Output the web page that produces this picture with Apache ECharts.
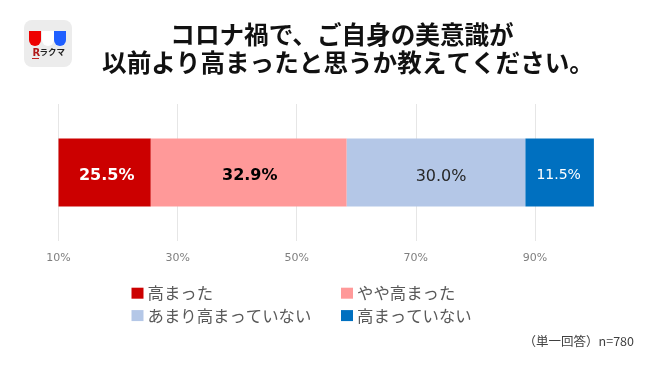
<!DOCTYPE html>
<html>
<head>
<meta charset="utf-8">
<style>
  html, body { margin: 0; padding: 0; background: #fff; }
  #chart { width: 650px; height: 366px; }
</style>
<script src="https://cdn.jsdelivr.net/npm/echarts@6/dist/echarts.min.js"></script>
</head>
<body>
<div id="chart"></div>
<script>
const titleLines = ['コロナ禍で、ご自身の美意識が', '以前より高まったと思うか教えてください。'];
const category = ['回答'];
const names = ['高まった', 'やや高まった', 'あまり高まっていない', '高まっていない'];
const values = [25.5, 32.9, 30.0, 11.5];
const tickValues = [10, 30, 50, 70, 90];
const note = '（単一回答）n=780';

const colors = ['#cc0000', '#ff9999', '#b4c7e7', '#0070c0'];
const labelColors = ['#ffffff', '#000000', '#262626', '#ffffff'];
const labelWeights = ['bold', 'bold', 'normal', 'normal'];
const labelSizes = [16, 16, 16, 14];
const labelOffsets = [[2, 3], [1, 3], [5, 4], [-1, 3]];

const jp = '"Noto Sans CJK JP", sans-serif';
const latin = '"DejaVu Sans", sans-serif';

const chart = echarts.init(document.getElementById('chart'));

// 凡例は2列なので2つに分ける
const legendBase = {
  orient: 'vertical',
  top: 280,
  itemWidth: 12,
  itemHeight: 11,
  itemGap: 6,
  icon: 'rect',
  textStyle: { fontFamily: jp, fontSize: 16.4, color: '#595959', padding: [0, 0, 4, -1] },
};

const titleStyle = { fontFamily: jp, fontSize: 24.6, fontWeight: 'bold', color: '#111111' };

chart.setOption({
  animation: false,
  title: [
    { text: titleLines[0], left: 337, top: 17, textAlign: 'center', textStyle: titleStyle },
    { text: titleLines[1], left: 343, top: 45, textAlign: 'center', textStyle: titleStyle },
  ],
  legend: [
    { ...legendBase, left: 126.5, data: [names[0], names[2]] },
    { ...legendBase, left: 336, data: [names[1], names[3]] },
  ],
  grid: { left: 58.5, right: 55.5, top: 104, bottom: 125 },
  xAxis: {
    type: 'value',
    min: 10,
    max: 100,
    axisLine: { show: false },
    axisTick: { show: false },
    axisLabel: {
      customValues: tickValues,
      formatter: '{value}%',
      fontFamily: latin,
      fontSize: 11,
      color: '#7f7f7f',
      margin: 12,
    },
    splitLine: { show: false },
  },
  yAxis: {
    type: 'category',
    data: category,
    axisLine: { show: false },
    axisTick: { show: false },
    axisLabel: { show: false },
  },
  series: [
    // 目盛線は20刻みなのでmarkLineで引く
    {
      type: 'line',
      data: [],
      z: 0,
      silent: true,
      markLine: {
        z: 0,
        silent: true,
        symbol: 'none',
        animation: false,
        label: { show: false },
        lineStyle: { color: '#e6e6e6', width: 1, type: 'solid' },
        data: tickValues.map((v) => ({ xAxis: v })),
      },
    },
    ...names.map((name, i) => ({
      name,
      type: 'bar',
      stack: 'total',
      barWidth: 68,
      z: 2,
      data: [values[i]],
      itemStyle: { color: colors[i] },
      label: {
        show: true,
        position: 'inside',
        offset: labelOffsets[i],
        formatter: (p) => p.value.toFixed(1) + '%',
        fontFamily: latin,
        fontSize: labelSizes[i],
        fontWeight: labelWeights[i],
        color: labelColors[i],
      },
    })),
  ],
  graphic: [
    { type: 'rect', shape: { x: 24, y: 20, width: 48, height: 47, r: 8 }, style: { fill: '#ececec' } },
    { type: 'rect', shape: { x: 29, y: 31, width: 12, height: 15, r: [0, 0, 6, 6] }, style: { fill: '#ee0000' } },
    { type: 'rect', shape: { x: 42, y: 31, width: 12, height: 15, r: [0, 0, 6, 6] }, style: { fill: '#ffffff' } },
    { type: 'rect', shape: { x: 54, y: 31, width: 12, height: 15, r: [0, 0, 6, 6] }, style: { fill: '#1f5fff' } },
    { type: 'text', x: 32.5, y: 48, style: { text: 'R', fill: '#b01818', font: 'bold 10px ' + latin } },
    { type: 'rect', shape: { x: 32, y: 58, width: 7, height: 1 }, style: { fill: '#c02020' } },
    { type: 'text', x: 39.5, y: 47.5, style: { text: 'ラクマ', fill: '#222222', font: 'bold 8.5px ' + jp } },
    { type: 'text', right: 16, top: 335, style: { text: note, fill: '#404040', font: '12.5px ' + jp } },
  ],
});
</script>
</body>
</html>
